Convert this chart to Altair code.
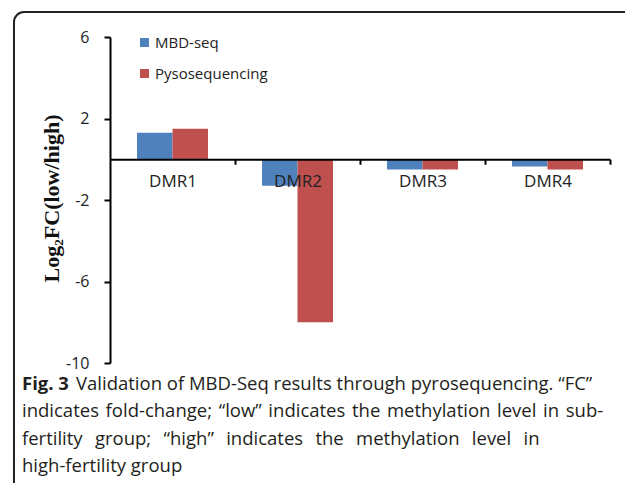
import altair as alt
import pandas as pd

categories = ["DMR1", "DMR2", "DMR3", "DMR4"]
series = ["MBD-seq", "Pysosequencing"]
mbd_seq = [1.3, -1.3, -0.5, -0.35]
pyroseq = [1.5, -8.0, -0.5, -0.5]
y_ticks = [6, 2, -2, -6, -10]
colors = ["#4F81BD", "#C0504D"]

caption_bold = "Fig. 3"
caption_lines = [
    "Validation of MBD-Seq results through pyrosequencing. \u201cFC\u201d",
    "indicates fold-change; \u201clow\u201d indicates the methylation level in sub-",
    "fertility group; \u201chigh\u201d indicates the methylation level in",
    "high-fertility group",
]
line_spaces = [" ", " \u200a", "\u2002\u2009", " "]

rows = []
for c, a, b in zip(categories, mbd_seq, pyroseq):
    rows.append({"cat": c, "series": series[0], "val": a})
    rows.append({"cat": c, "series": series[1], "val": b})
df = pd.DataFrame(rows)

W, H = 500, 326
zero_px = H * 6 / 16
step = W / len(categories)

bars = alt.Chart(df).mark_bar().encode(
    x=alt.X(
        "cat:N",
        sort=categories,
        scale=alt.Scale(paddingInner=0, paddingOuter=0),
        axis=alt.Axis(
            title=None, orient="bottom", offset=-(H - zero_px),
            domainColor="black", domainWidth=2,
            ticks=True, tickColor="black", tickWidth=2, tickSize=5,
            tickOffset=step / 2, labelOffset=-step / 2,
            labelPadding=9, labelFontSize=17, labelFont="Open Sans",
            labelColor="#222222", labelAngle=0, zindex=1,
        ),
    ),
    xOffset=alt.XOffset("series:N", sort=series, scale=alt.Scale(paddingInner=0, paddingOuter=0.76)),
    y=alt.Y(
        "val:Q",
        scale=alt.Scale(domain=[-10, 6], nice=False, zero=False),
        axis=alt.Axis(
            values=y_ticks, title="Log\u2082FC(low/high)", grid=False,
            domainColor="black", domainWidth=2,
            tickColor="black", tickWidth=2, tickSize=6,
            labelPadding=15, labelFontSize=16, labelFont="Open Sans",
            labelColor="#222222", labelExpr="'' + datum.value",
            titleFont="Liberation Serif", titleFontSize=22, titleFontWeight="bold",
            titleColor="#111111", titleX=-59, titleY=161, titleAngle=270,
            titleBaseline="middle", titleAlign="center", zindex=1,
        ),
    ),
    color=alt.Color(
        "series:N",
        sort=series,
        scale=alt.Scale(domain=series, range=colors),
        legend=alt.Legend(
            orient="none", legendX=27, legendY=-2, title=None,
            symbolType="square", symbolSize=81, symbolStrokeWidth=0,
            labelFontSize=15, labelFont="Open Sans", labelColor="#222222",
            rowPadding=15, labelOffset=3,
        ),
    ),
)

frame = alt.Chart(pd.DataFrame({"a": [0]})).mark_rect(
    fill="transparent", stroke="#222222", strokeWidth=2, cornerRadius=10
).encode(
    x=alt.value(-96), x2=alt.value(524), y=alt.value(-25), y2=alt.value(470)
)

layers = [frame, bars]

cap_font = "Open Sans"
cap_size = 18.5
base_y = 353
line_gap = 27.3
bold = alt.Chart(pd.DataFrame({"t": [caption_bold]})).mark_text(
    align="left", baseline="alphabetic", font=cap_font, fontSize=cap_size,
    fontWeight="bold", color="#231f20"
).encode(text="t:N", x=alt.value(-88), y=alt.value(base_y))
layers.append(bold)
for i, line in enumerate(caption_lines):
    xpos = -34 if i == 0 else -88
    txt = line.replace(" ", line_spaces[i])
    t = alt.Chart(pd.DataFrame({"t": [txt]})).mark_text(
        align="left", baseline="alphabetic", font=cap_font, fontSize=cap_size,
        color="#231f20"
    ).encode(text="t:N", x=alt.value(xpos), y=alt.value(base_y + i * line_gap))
    layers.append(t)

chart = alt.layer(*layers).properties(
    width=W, height=H,
    autosize=alt.AutoSizeParams(type="none"),
    padding={"left": 102, "top": 29, "right": 15, "bottom": 120},
    background="white",
).configure_view(strokeWidth=0)

chart.save("out.html", embed_options={"renderer": "svg", "actions": False})
